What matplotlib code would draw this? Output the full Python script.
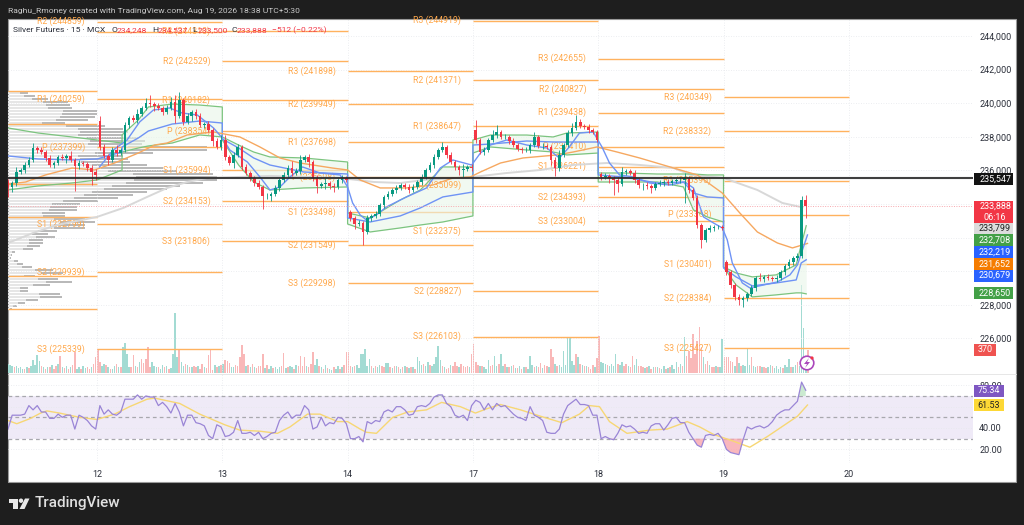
import numpy as np
import matplotlib
matplotlib.use('Agg')
import matplotlib.pyplot as plt
from matplotlib.patches import Rectangle, Circle, Polygon

plt.rcParams['font.family'] = ['Roboto', 'DejaVu Sans']

# candles, 30 per day, day 0 is the "12" tick
closes = [235015,235250,235905,236025,236320,236620,237335,237215,237095,236740,236320,236440,236800,236740,236860,236620,236260,236440,236380,236145,235905,235725,
          237394,236858,236620,237215,237037,237215,238703,239119,239000,239357,239714,240012,239952,239833,239714,239476,239714,240071,239238,240190,238881,239238,239476,239238,238703,238762,238405,237750,237394,237810,
          236800,236440,236917,237394,236204,235847,235549,235251,235013,234478,234478,234597,234954,235430,235727,236144,235847,235965,236620,236800,236501,235549,235073,235192,235251,235073,235013,235430,235549,235430,
          233169,232812,232871,232336,233169,233288,233407,233943,234418,234597,234835,234954,235132,235013,234835,235013,235311,235608,236025,236322,236800,237215,237394,236917,236501,236204,236025,236085,236204,236144,
          237810,237096,237215,237810,238108,238286,237988,237988,237750,237513,237275,237215,237215,237513,237988,237453,237453,237394,236620,236144,236917,237513,238227,238524,238881,238643,238583,238405,238286,237810,
          235609,235668,235549,235430,235192,235906,235966,235847,235430,235132,235132,235073,234954,235192,235251,235311,235251,235371,235430,235430,235549,234835,234359,232753,231860,232455,232574,232634,232634,232574,
          229956,229183,228469,228290,228409,228647,229004,229599,229540,229659,229599,229540,229599,229956,230313,230551,230789,230908,234248,233888]
# candles that open away from the previous close
gap_index = [22,82,112,142,172]
gap_open = [238930,233525,238405,235790,230550]
up_wick = [2,1,3,1,2,2,3,1,2,1,2,1,1,2,1,3,1,2,1,1,2,2,
           3,2,1,2,3,1,2,1,2,3,1,3,5,1,2,1,2,3,4,5,1,2,1,2,2,1,2,1,2,3,
           3,1,2,2,1,2,1,1,2,1,2,1,2,1,2,2,4,2,3,1,2,1,2,1,3,1,2,1,2,1,
           1,1,2,1,2,1,2,1,1,2,1,2,1,1,2,2,1,2,1,2,2,1,3,1,2,1,1,3,1,2,
           6,1,2,1,3,4,1,2,1,2,1,1,2,1,3,1,2,1,1,2,3,1,2,3,4,2,1,2,1,1,
           1,2,1,1,2,3,1,1,2,1,1,2,1,1,2,1,2,1,1,2,3,1,1,2,1,1,2,1,1,1,
           1,1,1,2,1,1,2,1,3,1,2,1,2,1,1,2,1,2,2,3]
dn_wick = [6,3,2,1,2,1,1,2,1,2,1,2,1,1,3,1,15,2,1,2,8,3,
           2,1,3,1,2,1,1,2,1,2,1,1,2,3,1,2,1,1,4,1,2,1,3,2,1,2,1,3,1,2,
           2,1,3,1,2,1,2,2,1,8,2,3,1,2,1,1,2,1,2,1,3,2,4,1,3,2,3,1,2,1,
           2,3,1,8,1,2,1,1,2,1,1,2,1,1,2,1,1,2,1,1,2,1,1,2,1,2,3,4,1,2,
           2,1,2,1,1,2,1,1,2,1,1,2,1,2,1,1,2,1,3,5,2,1,1,2,1,1,1,2,1,1,
           2,1,3,9,5,1,2,1,2,2,3,2,3,1,1,2,1,1,1,2,14,2,1,2,5,1,1,2,1,1,
           2,2,2,3,4,2,1,2,1,2,1,1,2,1,2,1,2,1,1,7]

# volume, 60 per day, sign = candle direction
volumes = [150,130,110,-90,120,80,100,70,-60,90,
           -80,110,210,130,290,190,-120,100,-60,90,
           -100,130,-70,-110,140,-270,90,-80,120,-60,
           100,-130,-340,70,90,-60,120,80,-90,-60,
           90,-150,-260,-380,-170,110,150,-130,90,-70,
           60,110,-140,90,-90,420,480,300,90,-100,
           -290,110,-90,170,-230,-160,-220,-420,-100,180,
           120,90,-100,70,130,-90,110,-60,80,300,
           960,250,-380,170,120,-140,130,-100,90,-120,
           -90,110,-60,-140,90,-80,-290,-380,-50,130,
           -90,120,-130,140,-210,-190,-160,100,90,-130,
           -120,-260,-450,-300,120,-130,90,-150,100,-80,
           -110,-120,-300,80,-130,70,120,-80,90,60,
           100,-120,-320,80,-90,110,90,-70,130,-120,
           -270,-110,-260,120,-100,-150,-330,130,220,-110,
           90,-70,130,-80,60,50,-90,70,110,-70,
           90,-130,-340,-330,-120,90,-110,130,80,300,
           300,380,120,220,-120,80,-110,90,130,-110,
           -90,160,160,-100,80,-110,120,-90,70,-100,
           110,-90,80,-100,90,-70,260,190,130,-150,
           120,180,-130,110,150,260,430,210,-120,90,
           -70,-80,130,-110,-170,-120,100,-150,-120,-90,
           -110,90,-300,-460,-180,-130,110,-120,90,70,
           210,-120,-130,270,110,-140,300,120,-150,100,
           -90,120,-130,80,-80,110,-70,90,-100,60,
           270,130,-100,120,-90,-160,80,-130,-110,90,
           -380,-260,150,-110,130,90,350,130,580,580,
           200,130,-300,260,-150,130,-110,120,-90,-70,
           -130,90,-240,-600,180,160,150,-130,110,150,
           120,300,-150,130,180,-110,-140,120,-100,-270,
           130,220,-120,-110,-90,80,-100,120,-70,90,
           -100,90,-80,70,110,-60,80,-90,130,60,
           180,-90,140,-120,580,-280,-360,-240,-620,-300,
           -520,-740,-420,260,-150,-190,130,-100,-90,120,
           -90,100,540,-250,-260,-260,-190,-170,120,-260,
           160,-120,130,120,380,130,-260,110,90,-120,
           -120,100,-90,-80,90,130,-110,80,110,70,
           90,-80,130,100,220,-90,100,130,-170,110,
           1410,720,200,-370]

rsi = [39,52,52,52,53,61,57,61,55,55,49,49,53,50,52,52,39,52,50,47,42,39,
       61,53,57,53,52,55,67,67,67,71,67,70,69,69,61,64,60,54,63,55,42,52,52,45,44,42,33,30,43,41,
       32,33,36,47,35,35,36,33,36,30,32,35,36,47,52,55,49,52,52,61,57,39,41,50,42,45,44,50,49,44,
       30,30,32,27,46,44,47,46,55,57,55,60,60,57,52,53,60,61,60,63,69,71,71,63,60,52,50,52,47,61,
       66,64,57,63,57,63,60,61,57,53,50,49,47,60,52,50,47,36,35,35,39,53,61,64,67,62,62,61,52,52,
       30,32,30,29,35,43,41,42,39,35,36,35,42,44,44,38,43,49,50,45,45,36,30,24,22,33,34,33,35,30,
       20,17,16,15,29,41,39,41,42,40,42,46,52,55,57,57,61,65,83,75.34]
rsi_ma_x = [-0.71,-0.64,-0.53,-0.45,-0.40,-0.30,-0.14,0,0.14,0.26,0.40,0.46,0.66,0.82,1.02,1.14,1.30,1.44,1.54,1.68,
            1.78,1.92,2.0,2.10,2.15,2.23,2.36,2.48,2.63,2.75,2.90,3.02,3.11,3.22,3.38,3.54,3.71,3.85,3.93,4.01,
            4.09,4.23,4.41,4.55,4.71,4.81,4.92,5.07,5.21,5.35,5.59,5.67]
rsi_ma = [47,44,49,54,56,54,50,48,53,60,67,68,63,53,43,38,37,35,41,53,
          53,46,46,39,36,35,50,55,57,64,60,54,58,62,57,51,45,53,61,60,
          46,35,38,39,46,41,34,28,22,32,51,61.53]

# moving averages
orange_x = [-0.71,-0.57,-0.41,-0.20,-0.02,0.14,0.33,0.46,0.56,0.72,0.93,1.14,1.30,1.46,1.62,1.88,2.0,2.10,2.26,2.47,2.68,2.84,2.98,3.06,3.22,3.40,3.67,3.80,3.99,4.15,4.33,4.60,4.79,4.99,5.13,5.27,5.43,5.55,5.67]
orange_y = [235190,235310,235730,236140,236025,236440,237035,237510,237630,238110,238290,237990,237395,236740,236440,236140,236025,235430,234955,234955,235130,235550,235610,235905,236440,236740,236920,237095,237395,237095,236740,236145,235730,234655,233465,232335,231680,231385,231652]
gray_x = [-0.71,-0.51,-0.32,0,0.21,0.40,0.56,0.72,0.88,1.38,1.94,2.21,2.42,2.61,3.00,3.27,3.54,3.80,4.07,4.33,4.60,4.74,5.00,5.27,5.47,5.63]
gray_y = [231680,232275,232750,233230,233765,234420,234955,235310,235550,235670,235550,235310,235250,235430,235610,235845,236025,236325,236440,236325,236145,235730,235550,234835,234060,233799]
fast_x = [0.02,0.13,0.24,0.34,0.45,0.58,0.68,0.80,0.93,1.0,1.06,1.20,1.30,1.38,1.46,1.54,1.64,1.78,1.94,2.0,2.04,2.10,2.15,2.23,2.31,2.47,2.63,2.74,2.84,2.99,3.06,3.14,3.27,3.43,3.59,3.69,3.77,3.85,3.96,4.03,4.09,4.17,4.28,4.41,4.57,4.69,4.76,4.84,4.92,4.99,5.03,5.07,5.15,5.21,5.32,5.43,5.53,5.59,5.67]
fast_y = [236205,237215,237810,238880,239595,239715,239415,239300,238525,237930,237215,236500,235610,234835,235015,235610,236205,235845,235730,235015,234060,233350,233050,233350,233825,234420,234955,236145,236620,236320,237035,237510,237810,237510,237335,236740,237395,238225,238285,237395,236440,235730,235610,235250,235130,235310,234955,233230,232870,232575,231860,230490,229300,229005,229180,229360,229780,230375,232157]

# anchored vwap band, one block per session (first block has no shading in the chart)
band_x = [[-0.71,-0.47,-0.20,0.0,0.2],[0.2,0.33,0.41,0.60,0.82,1.0],[1.0,1.13,1.25,1.38,1.65,2.0],[2.0,2.18,2.42,2.58,2.76,3.0],
          [3.0,3.14,3.43,3.64,3.75,4.0],[4.0,4.2,4.47,4.68,4.76,4.87,5.0],[5.0,5.10,5.23,5.42,5.58,5.62,5.66]]
band_up = [[238525,238225,237990,237810,237630],[238110,239000,239775,239950,239890,239775],[237990,237510,237095,236800,236740,236500],
           [233465,233170,234240,234835,236205,236205],[237810,238105,238105,237990,238225,238285],
           [235845,235845,235785,235785,235785,235730,235730],[230255,229895,229660,229780,230375,231565,232708]]
band_lo = [[234835,235075,235250,235430,236025],[237095,237335,237455,237630,238110,237990],[237810,236320,235310,234835,234955,235015],
           [232810,232335,232575,232750,232930,233290],[237035,237395,237215,237095,236920,237035],
           [235310,235310,235310,235015,233645,233230,232930],[230255,229180,228470,228590,228710,228710,228650]]
band_mid = [[236860,236680,236620,236680,237095],[237395,237930,238345,238760,238940,238820],[237870,237335,236740,236320,235905,235785],
            [233170,232930,233290,233765,234420,234715],[237510,237570,237750,237690,237690,237690],
            [235730,235610,235250,235310,234655,234420,234360],[230195,229660,229125,229300,229480,230490,230679]]

# pivots
pivot_names = ['R3','R2','R1','P','S1','S2','S3']
pivot_start = [1,2,3,4,5,6]
pivot_levels = [[None,244859,240259,237399,232799,229939,225339],
                [244310,242529,240182,238354,235994,234153,231806],
                [241898,239949,237698,235598,233498,231549,229298],
                [244919,241371,238647,235099,232375,228827,226103],
                [242655,240827,239438,237410,236221,234393,233004],
                [240349,238332,235395,233368,230401,228384,225427]]
early_levels = [240726,238762,235190,233224,229713,227750]
extra_level = 244240

# visible range volume profile rows, top to bottom
prof_total = [20,27,40,60,62,64,89,89,87,80,
              57,97,115,120,115,130,137,134,199,199,
              145,115,120,122,139,155,169,205,209,209,
              195,172,159,139,125,110,90,72,69,69,
              57,57,77,87,77,77,49,40,47,35,
              35,32,25,7,4,3,10,15,24,45,
              55,27,50,64,42,20,20,52,54,30,
              17,9,4]
prof_light = [12,16,24,35,38,40,55,54,52,48,
              34,58,70,72,70,78,82,80,120,118,
              87,70,72,73,84,93,100,125,128,126,
              118,104,96,84,76,66,55,44,42,41,
              34,35,46,52,46,46,30,24,28,21,
              21,19,15,4,3,2,6,9,14,27,
              33,16,30,38,25,12,12,31,32,18,
              10,5,2]

day_ticks = [0,1,2,3,4,5,6]
day_labels = ['12','13','14','17','18','19','20']
price_ticks = [226000,228000,230000,232000,234000,236000,238000,240000,242000,244000]
rsi_ticks = [20,40,60,80]
last_price = 235547
close_price = 233888

# right scale tags: text, centre row, fill, text colour
tag_text = ['235,547','233,799','232,708','232,219','231,652','230,679','228,650']
tag_row = [179,228,240,252,264,275.5,293]
tag_fill = ['#131313','#dcdcdc','#43a047','#2962ff','#f57c00','#2962ff','#43a047']
tag_ink = ['white','#222222','white','white','white','white','white']

W, H = 1024, 525
BG = '#1e1e1e'
FS = 6.5
fig = plt.figure(figsize=(W/100, H/100), dpi=100, facecolor=BG)

def rect(l, t, r, b):
    return [l/W, 1-b/H, (r-l)/W, (b-t)/H]

back = fig.add_axes([0,0,1,1], zorder=0)
back.set_xlim(0,W); back.set_ylim(H,0); back.axis('off')
back.add_patch(Rectangle((8,19), 1008, 463, fc='white', ec='#9a9a9a', lw=0.8))

XMIN, XMAX = -0.7103, 6.991
YLIM = (223940, 245012)

ax_vol = fig.add_axes(rect(8,19,973,373), zorder=1)
ax_prof = fig.add_axes(rect(8,19,973,373), zorder=2)
ax = fig.add_axes(rect(8,19,973,373), zorder=3)
ax_rsi = fig.add_axes(rect(8,374,973,463), zorder=3)

for a in [ax_vol, ax_prof, ax, ax_rsi]:
    a.patch.set_alpha(0)
    for s in a.spines.values():
        s.set_visible(False)

# grid + volume
ax_vol.set_xlim(XMIN, XMAX); ax_vol.set_ylim(0, 5664); ax_vol.axis('off')
vol = np.array(volumes)
vol_x = XMIN + np.arange(len(vol))/60
ax_vol.bar(vol_x, np.abs(vol), width=0.012, color=['#a3dbd3' if v > 0 else '#f9b8b8' for v in vol], linewidth=0)

# volume profile
ax_prof.set_xlim(0, 965); ax_prof.set_ylim(*YLIM); ax_prof.axis('off')
total = np.array(prof_total)
light = np.array(prof_light)
prof_y = 240606 - 178.5*np.arange(len(total))
ax_prof.barh(prof_y, light, height=140, color='#e6e6e6', linewidth=0)
ax_prof.barh(prof_y, total-light, left=light, height=140, color='#b9b9b9', linewidth=0)

# main pane
ax.set_xlim(XMIN, XMAX); ax.set_ylim(*YLIM)
ax.set_xticks(day_ticks); ax.set_xticklabels([])
ax.yaxis.tick_right()
ax.set_yticks(price_ticks)
ax.set_yticklabels(['{:,}'.format(p) for p in price_ticks], fontsize=FS, color='#2a2e39')
ax.tick_params(length=0, pad=4.5)
ax.grid(True, color='#e6e8ec', lw=0.6, ls=(0,(1,2)), zorder=0)
ax.set_axisbelow(True)

PIV = '#ffb25e'
for lv in early_levels:
    ax.hlines(lv, XMIN, 0, color=PIV, lw=1, zorder=1)
ax.hlines(extra_level, 0, 1, color=PIV, lw=1, zorder=1)
for start, levels in zip(pivot_start, pivot_levels):
    for name, lv in zip(pivot_names, levels):
        if lv is None:
            continue
        ax.hlines(lv, start-1, start, color=PIV, lw=1, zorder=1)
        ax.text(start-1-0.096, lv, f'{name} ({lv})', ha='right', va='center', fontsize=6.3, color='#ffa94d', zorder=1.5)

# band
for bx, up, lo in zip(band_x[1:], band_up[1:], band_lo[1:]):
    ax.fill_between(bx, lo, up, color='#e8f5e9', alpha=0.6, linewidth=0, zorder=1.2)
ax.plot(sum(band_x, []), sum(band_up, []), color='#7cc47f', lw=0.9, zorder=2)
ax.plot(sum(band_x, []), sum(band_lo, []), color='#7cc47f', lw=0.9, zorder=2)
ax.plot(sum(band_x, []), sum(band_mid, []), color='#6f93f5', lw=1, zorder=2)
ax.plot(gray_x, gray_y, color='#d8d8d8', lw=1.4, zorder=1.8)
ax.plot(orange_x, orange_y, color='#f6a860', lw=1, zorder=2)
ax.plot(fast_x, fast_y, color='#6f93f5', lw=1, zorder=2)

ax.axhline(close_price, color='#f7a8ae', lw=0.7, ls=(0,(1,1.5)), zorder=2)
ax.axhline(last_price, color='#2b2b2b', lw=1.5, alpha=0.9, zorder=5)

# candles
c = np.array(closes, dtype=float)
o = np.r_[235300, c[:-1]]
o[gap_index] = gap_open
cx = XMIN + np.arange(len(c))/30
hi = np.maximum(o, c) + np.array(up_wick)*100
lo = np.minimum(o, c) - np.array(dn_wick)*100
col = np.where(c >= o, '#089981', '#f23645')
ax.vlines(cx, lo, hi, colors=col, lw=0.7, alpha=0.85, zorder=3)
ax.bar(cx, np.abs(c-o), bottom=np.minimum(o, c), width=0.021, color=col, linewidth=0, zorder=3.2)

# rsi pane
ax_rsi.set_xlim(XMIN, XMAX); ax_rsi.set_ylim(7.2, 90.6)
ax_rsi.axhspan(30, 70, color='#ede7f6', alpha=0.85, linewidth=0, zorder=0.5)
ax_rsi.set_xticks(day_ticks); ax_rsi.set_xticklabels(day_labels, fontsize=FS, color='#2a2e39')
ax_rsi.yaxis.tick_right()
ax_rsi.set_yticks(rsi_ticks); ax_rsi.set_yticklabels(['%.2f' % t for t in rsi_ticks], fontsize=FS, color='#2a2e39')
ax_rsi.tick_params(length=0, pad=4.5)
ax_rsi.tick_params(axis='x', pad=5)
ax_rsi.grid(True, color='#e6e8ec', lw=0.6, ls=(0,(1,2)), zorder=0)
ax_rsi.set_axisbelow(True)
for lvl in [70, 50, 30]:
    ax_rsi.axhline(lvl, color='#a8a8ae', lw=0.9, ls=(0,(3,2.5)), zorder=1)
rsi_arr = np.array(rsi, dtype=float)
rx = XMIN + np.arange(len(rsi_arr))/30
ax_rsi.fill_between(rx, rsi_arr, 30, where=rsi_arr < 30, interpolate=True, color='#f8a5ad', alpha=0.8, linewidth=0, zorder=1.2)
ax_rsi.fill_between(rx, rsi_arr, 70, where=rsi_arr > 70, interpolate=True, color='#bfe5c5', alpha=0.8, linewidth=0, zorder=1.2)
ax_rsi.plot(rsi_ma_x, rsi_ma, color='#f7d774', lw=1, zorder=2)
ax_rsi.plot(rx, rsi_arr, color='#9a85d6', lw=0.9, zorder=3)

# everything in page rows from here
top = fig.add_axes([0,0,1,1], zorder=10)
top.set_xlim(0,W); top.set_ylim(H,0); top.axis('off'); top.patch.set_alpha(0)

top.plot([8,1016],[373.5,373.5], color='#e3e3e3', lw=0.6)

def tag(row, text, fill, ink, h=12, right=1013, center=None):
    top.add_patch(Rectangle((974, row-h/2), right-974, h, fc=fill, ec='none'))
    top.text(center or (974+right)/2, row, text, ha='center', va='center', fontsize=FS, color=ink)

for t, r, f, i in zip(tag_text, tag_row, tag_fill, tag_ink):
    tag(r, t, f, i, center=995)
top.add_patch(Rectangle((974,201), 39, 22, fc='#f23645', ec='none'))
top.text(995, 206.5, '233,888', ha='center', va='center', fontsize=FS, color='white')
top.text(995, 217, '06:16', ha='center', va='center', fontsize=FS, color='white')
tag(349.5, '370', '#ef5350', 'white', right=996)
tag(390.5, '75.34', '#7e57c2', 'white', right=1004)
tag(405, '61.53', '#fdd835', '#222222', right=1004)

# header and legend
top.text(8, 11, 'Raghu_Rmoney created with TradingView.com, Aug 19, 2026 18:38 UTC+5:30', fontsize=6.1, color='#c8c8c8', va='center')
top.text(13, 30.5, 'Silver Futures · 15 · MCX', fontsize=6.1, color='#2a2e39', va='center')
for px, lab, val in [(111,'O','234,248'), (152,'H','234,537'), (192,'L','233,500'), (231,'C','233,888')]:
    top.text(px, 30.5, lab, fontsize=6.1, color='#2a2e39', va='center')
    top.text(px+5.5, 30.5, val, fontsize=6.1, color='#f23645', va='center')
top.text(272, 30.5, '−512 (−0.22%)', fontsize=6.1, color='#f23645', va='center')

# alert badge
top.add_patch(Circle((807,363), 6.8, fc='white', ec='#ab47bc', lw=1.2))
top.add_patch(Polygon([(809,358),(804,364),(807,364),(805,368),(810,362),(807,362)], fc='#ab47bc', ec='none'))
top.add_patch(Circle((812,358), 1.6, fc='#f23645', ec='none'))

# logo
top.add_patch(Polygon([(8.5,498.5),(17.5,498.5),(17.5,509),(12.5,509),(12.5,503),(8.5,503)], fc='#e8e8e8', ec='none'))
top.add_patch(Circle((21,500.7), 2.2, fc='#e8e8e8', ec='none'))
top.add_patch(Polygon([(25,498.5),(29.5,498.5),(24.5,509),(19.5,509)], fc='#e8e8e8', ec='none'))
top.text(35, 503.5, 'TradingView', fontsize=11, fontweight='medium', color='#e0e0e0', va='center')

fig.savefig('out.png', dpi=100, facecolor=BG)
